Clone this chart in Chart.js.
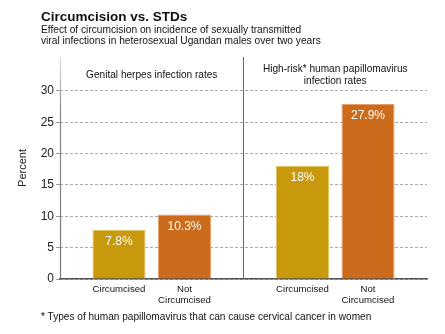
<!DOCTYPE html>
<html>
<head>
<meta charset="utf-8">
<script src="https://cdn.jsdelivr.net/npm/chart.js@4"></script>
<style>
    body { margin: 0; background: #fff; font-family: 'Liberation Sans', Arial, sans-serif; color: #111; }
    #wrap { position: relative; width: 445px; height: 334px; overflow: hidden; }
    #title { position: absolute; left: 41px; top: 9px; font-size: 13.5px; font-weight: bold; font-family: 'Liberation Sans Narrow', 'Liberation Sans', Arial, sans-serif; }
    #sub { position: absolute; left: 41px; top: 24px; font-size: 10.2px; line-height: 11px; }
    #note { position: absolute; left: 41px; top: 311px; font-size: 10.1px; }
    canvas { position: absolute; left: 0; top: 0; }
</style>
</head>
<body>
<div id="wrap">
    <canvas id="chart" width="445" height="334"></canvas>
    <div id="title">Circumcision vs. STDs</div>
    <div id="sub">Effect of circumcision on incidence of sexually transmitted<br>viral infections in heterosexual Ugandan males over two years</div>
    <div id="note">* Types of human papillomavirus that can cause cervical cancer in women</div>
</div>
<script>
// groups along the x axis
const groups = ['Genital herpes', 'High-risk HPV'];
const groupTitles = [
    ['Genital herpes infection rates'],
    ['High-risk* human papillomavirus', 'infection rates']
];

// series
const seriesNames = ['Circumcised', 'Not Circumcised'];
const seriesLabelLines = [['Circumcised'], ['Not', 'Circumcised']];
const circumcised = [7.8, 18];
const notCircumcised = [10.3, 27.9];

const yTicks = [0, 5, 10, 15, 20, 25, 30];

const gold = '#C8990D';
const orange = '#CC6B1B';

const FONT = "'Liberation Sans', Arial, sans-serif";

const labelsPlugin = {
    id: 'labels',
    beforeDatasetsDraw(chart) {
        // solid left axis line, fading toward the top
        const ctx = chart.ctx;
        const area = chart.chartArea;
        const grad = ctx.createLinearGradient(0, area.top, 0, area.bottom);
        grad.addColorStop(0, '#e0e0e0');
        grad.addColorStop(0.25, '#888');
        grad.addColorStop(1, '#777');
        ctx.save();
        ctx.strokeStyle = grad;
        ctx.lineWidth = 1.2;
        ctx.beginPath();
        ctx.moveTo(area.left + 0.5, area.top);
        ctx.lineTo(area.left + 0.5, area.bottom);
        ctx.stroke();
        ctx.restore();
    },
    afterDatasetsDraw(chart) {
        const ctx = chart.ctx;
        const area = chart.chartArea;
        const xScale = chart.scales.x;
        ctx.save();
        ctx.textAlign = 'center';
        ctx.textBaseline = 'middle';

        // group titles inside the plot
        ctx.fillStyle = '#111';
        ctx.font = `10.1px ${FONT}`;
        groupTitles.forEach((lines, i) => {
            const x = xScale.getPixelForValue(i);
            lines.forEach((line, j) => {
                const y = area.top + 18 + (j - (lines.length - 1) / 2) * 12;
                ctx.fillText(line, x, y);
            });
        });

        chart.data.datasets.forEach((ds, d) => {
            const meta = chart.getDatasetMeta(d);
            meta.data.forEach((bar, i) => {
                // value inside bar
                ctx.fillStyle = '#fff';
                ctx.font = `12px ${FONT}`;
                ctx.fillText(ds.data[i] + '%', bar.x, bar.y + 12);
                // series name under bar
                ctx.fillStyle = '#111';
                ctx.font = `9.6px ${FONT}`;
                seriesLabelLines[d].forEach((line, j) => {
                    ctx.fillText(line, bar.x, area.bottom + 10.5 + j * 10.5);
                });
            });
        });
        ctx.restore();
    }
};

new Chart(document.getElementById('chart'), {
    type: 'bar',
    data: {
        labels: groups,
        datasets: [
            {
                label: seriesNames[0],
                data: circumcised,
                backgroundColor: gold,
                borderColor: '#E2C466',
                borderWidth: 1
            },
            {
                label: seriesNames[1],
                data: notCircumcised,
                backgroundColor: orange,
                borderColor: '#E9A06A',
                borderWidth: 1
            }
        ]
    },
    options: {
        responsive: false,
        animation: false,
        categoryPercentage: 0.714,
        barPercentage: 0.81,
        layout: {
            padding: { left: 0, right: 18, top: 57, bottom: 55 }
        },
        plugins: {
            legend: { display: false },
            tooltip: { enabled: false }
        },
        scales: {
            x: {
                ticks: { display: false },
                grid: {
                    offset: true,
                    drawTicks: false,
                    color: ctx => ctx.index === 1 ? '#666' : 'transparent',
                    lineWidth: 1
                },
                border: { color: '#555', width: 1.5 },
                afterFit: scale => { scale.height = 0; }
            },
            y: {
                min: 0,
                max: 35.4,
                afterBuildTicks: axis => {
                    axis.ticks = yTicks.map(v => ({ value: v }));
                },
                ticks: {
                    color: '#222',
                    padding: 2,
                    font: { family: FONT, size: 12 }
                },
                grid: {
                    color: '#aaa',
                    tickColor: '#999',
                    tickLength: 4,
                    drawTicks: true
                },
                border: { display: false, dash: [3, 2] },
                title: {
                    display: true,
                    text: 'Percent',
                    color: '#222',
                    font: { family: FONT, size: 11 },
                    padding: { top: 16, bottom: 0 }
                },
                afterFit: scale => { scale.width = 60; }
            }
        }
    },
    plugins: [labelsPlugin]
});
</script>
</body>
</html>
